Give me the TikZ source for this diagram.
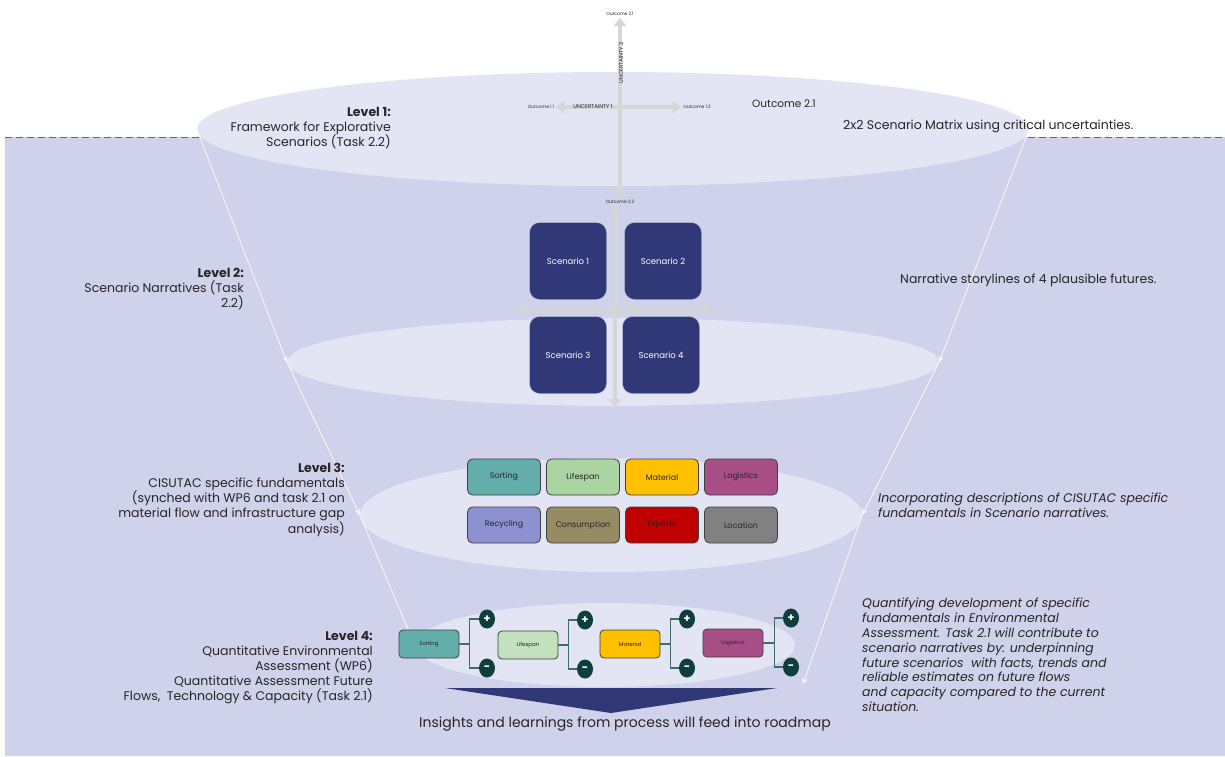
\documentclass[tikz,border=0pt]{standalone}
\usepackage{fontspec}
\setmainfont{Poppins}
\usetikzlibrary{shapes.geometric,arrows.meta}
\definecolor{lavender}{HTML}{D0D1EA}
\definecolor{mist}{HTML}{E4E5F4}
\definecolor{navyblue}{HTML}{313878}
\definecolor{axisgray}{HTML}{D4D7D4}
\definecolor{dashblue}{HTML}{4F5DCC}
\definecolor{pinegreen}{HTML}{0F3F3D}
\definecolor{branchline}{HTML}{3F6E6B}
\definecolor{inkgray}{HTML}{262626}
\definecolor{cSorting}{HTML}{63AEAB}
\definecolor{cLifespan}{HTML}{AAD4A1}
\definecolor{cMaterial}{HTML}{FFC000}
\definecolor{cLogistics}{HTML}{A84F88}
\definecolor{cRecycling}{HTML}{8D91D2}
\definecolor{cConsumption}{HTML}{968B62}
\definecolor{cExports}{HTML}{C00000}
\definecolor{cLocation}{HTML}{818181}
\begin{document}
\begin{tikzpicture}[
    x=1pt, y=-1pt,
    every node/.style={text=inkgray},
    disc/.style={ellipse, fill=mist, inner sep=0pt},
    funnel/.style={-{Stealth[length=6pt,width=6pt]}, draw=white!80!lavender, line width=0.9pt},
    axis/.style={{Triangle[length=8pt,width=12pt]}-{Triangle[length=8pt,width=12pt]}, draw=axisgray, line width=4pt},
    outcome/.style={font=\fontsize{4.5}{5}\selectfont, inner sep=2pt},
    scenario/.style={rectangle, rounded corners=10pt, fill=navyblue, draw=white!70!navyblue, minimum width=77pt, minimum height=77pt, text=white, font=\fontsize{8.5}{10}\selectfont},
    factor/.style={rectangle, rounded corners=5pt, draw=black!75, line width=0.8pt, minimum width=73pt, minimum height=36pt, font=\fontsize{8}{9}\selectfont},
    quant/.style={rectangle, rounded corners=4pt, draw=black!75, line width=0.8pt, minimum width=60pt, minimum height=28pt, font=\fontsize{5.5}{6}\selectfont},
    sign/.style={ellipse, fill=pinegreen, minimum width=16pt, minimum height=19pt, inner sep=0pt, text=white, font=\bfseries\fontsize{11}{11}\selectfont},
    branch/.style={draw=branchline, line width=1.2pt},
    level/.style={align=right, font=\fontsize{12.5}{15}\selectfont, inner sep=0pt},
    note/.style={align=left, font=\fontsize{12.5}{15}\selectfont, inner sep=0pt}
]
    \useasboundingbox (0,0) rectangle (1225,756);
    \fill[white] (0,0) rectangle (1225,756);

    % backdrop below the dashed line
    \fill[lavender] (5,137) rectangle (1225,756);
    \draw[dashblue, dash pattern=on 7pt off 4pt, line width=0.8pt] (5,137) -- (1225,137);

    % funnel levels
    \node[disc, minimum width=832pt, minimum height=114pt] (ellA) at (613,129) {};
    \node[disc, minimum width=652pt, minimum height=88pt] (ellB) at (613,362) {};
    \node[disc, minimum width=502pt, minimum height=114pt] (ellC) at (611,515) {};
    \node[disc, minimum width=380pt, minimum height=84pt] (ellD) at (605,645) {};

    \coordinate (feedR) at (803,684);
    \draw[funnel] (ellA.west) -- (ellB.west);
    \draw[funnel] (ellB.west) -- (ellC.west);
    \draw[funnel] (ellC.west) -- (ellD.west);
    \draw[funnel] (ellA.east) -- (ellB.east);
    \draw[funnel] (ellB.east) -- (ellC.east);
    \draw[funnel] (ellC.east) -- (feedR);

    % level 1: uncertainty axes
    \node[outcome] (o21) at (620,14) {Outcome 2.1};
    \node[outcome] (o22) at (620,202) {Outcome 2.2};
    \node[outcome] (o11) at (541,107) {Outcome 1.1};
    \node[outcome] (o12) at (697,107) {Outcome 1.2};
    \draw[axis] (o11) -- (o12);
    \draw[axis] (o21) -- (o22);
    \node[outcome, font=\fontsize{5.5}{6}\selectfont] (u1) at (593,107) {UNCERTAINTY 1};
    \node[outcome, font=\fontsize{5.5}{6}\selectfont, rotate=90] (u2) at (621,63) {UNCERTAINTY 2};

    % level 2: scenario matrix
    \coordinate (scnW) at (517,309);
    \coordinate (scnE) at (712,309);
    \coordinate (scnS) at (615,407);
    \draw[axis] (scnW) -- (scnE);
    \draw[axis] (scnS |- o22.south) -- (scnS);
    \node[scenario] (sc1) at (568,261) {Scenario 1};
    \node[scenario] (sc2) at (663,261) {Scenario 2};
    \node[scenario] (sc3) at (568,355) {Scenario 3};
    \node[scenario] (sc4) at (661,355) {Scenario 4};

    % level 3: fundamentals
    \node[factor, fill=cSorting] (fSort) at (504,477) {Sorting};
    \node[factor, fill=cLifespan] (fLife) at (583,477) {Lifespan};
    \node[factor, fill=cMaterial] (fMat) at (662,477) {Material};
    \node[factor, fill=cLogistics] (fLog) at (741,477) {Logistics};
    \node[factor, fill=cRecycling] (fRec) at (504,525) {Recycling};
    \node[factor, fill=cConsumption] (fCons) at (583,525) {Consumption};
    \node[factor, fill=cExports] (fExp) at (662,525) {Exports};
    \node[factor, fill=cLocation] (fLoc) at (741,525) {Location};

    % level 4: quantitative branches
    \node[quant, fill=cSorting] (qSort) at (429,644) {Sorting};
    \node[quant, fill=cLifespan!70!white] (qLife) at (528,645) {Lifespan};
    \node[quant, fill=cMaterial] (qMat) at (630,644) {Material};
    \node[quant, fill=cLogistics] (qLog) at (733,643) {Logistics};

    \node[sign] (pSort) at (487,619) {+};
    \node[sign] (mSort) at (487,668) {-};
    \node[sign] (pLife) at (585,620) {+};
    \node[sign] (mLife) at (585,669) {-};
    \node[sign] (pMat) at (687,619) {+};
    \node[sign] (mMat) at (687,668) {-};
    \node[sign] (pLog) at (791,618) {+};
    \node[sign] (mLog) at (791,667) {-};

    \draw[branch] (qSort.east) -- ++(10,0) |- (pSort);
    \draw[branch] (qSort.east) ++(10,0) |- (mSort);
    \draw[branch] (qLife.east) -- ++(10,0) |- (pLife);
    \draw[branch] (qLife.east) ++(10,0) |- (mLife);
    \draw[branch] (qMat.east) -- ++(10,0) |- (pMat);
    \draw[branch] (qMat.east) ++(10,0) |- (mMat);
    \draw[branch] (qLog.east) -- ++(11,0) |- (pLog);
    \draw[branch] (qLog.east) ++(11,0) |- (mLog);

    % output
    \fill[navyblue] (445,688) -- (777,688) -- (611,713) -- cycle;
    \node[font=\fontsize{14}{16}\selectfont] (roadmap) at (625,724) {Insights and learnings from process will feed into roadmap};

    % left labels
    \node[level, anchor=east] (lvl1) at (391,128) {\textbf{Level 1:}\\Framework for Explorative\\Scenarios (Task 2.2)};
    \node[level, anchor=east] (lvl2) at (244,289) {\textbf{Level 2:}\\Scenario Narratives (Task\\2.2)};
    \node[level, anchor=east] (lvl3) at (345,500) {\textbf{Level 3:}\\CISUTAC specific fundamentals\\(synched with WP6 and task 2.1 on\\material flow and infrastructure gap\\analysis)};
    \node[level, anchor=east] (lvl4) at (373,668) {\textbf{Level 4:}\\Quantitative Environmental\\Assessment (WP6)\\Quantitative Assessment Future\\Flows,~ Technology \& Capacity (Task 2.1)};

    % right notes
    \node[note, anchor=west, font=\fontsize{10.5}{12}\selectfont] (out21) at (752,104) {Outcome 2.1};
    \node[note, anchor=west] (matrix) at (843,126) {2x2 Scenario Matrix using critical uncertainties.};
    \node[note, anchor=west] (story) at (900,280) {Narrative storylines of 4 plausible futures.};
    \node[note, anchor=west, font=\itshape\fontsize{12.5}{15}\selectfont] (incorp) at (878,505) {Incorporating descriptions of CISUTAC specific\\fundamentals in Scenario narratives.};
    \node[note, anchor=west, font=\itshape\fontsize{12.5}{14.8}\selectfont] (quantify) at (862,655) {Quantifying development of specific\\fundamentals in Environmental\\Assessment. Task 2.1 will contribute to\\scenario narratives by: underpinning\\future scenarios~ with facts, trends and\\reliable estimates on future flows\\and capacity compared to the current\\situation.};
\end{tikzpicture}
\end{document}
